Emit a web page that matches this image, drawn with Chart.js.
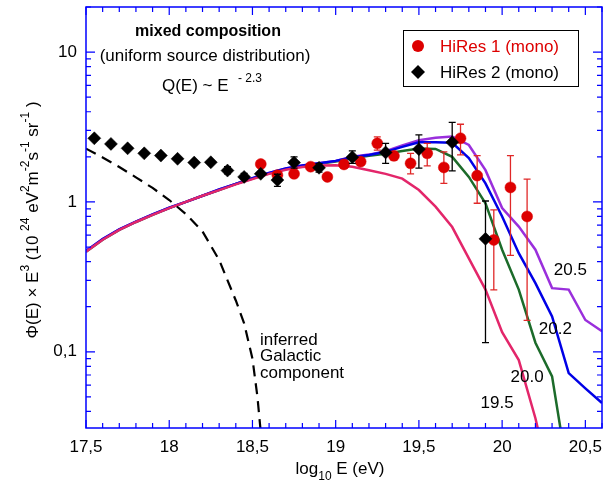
<!DOCTYPE html>
<html>
<head>
<meta charset="utf-8">
<script src="https://cdn.jsdelivr.net/npm/chart.js@4.4.1/dist/chart.umd.min.js"></script>
<style>
  html, body { margin: 0; padding: 0; background: #fff; }
  #wrap { width: 609px; height: 486px; }
</style>
</head>
<body>
<div id="wrap"><canvas id="spectrum" width="609" height="486"></canvas></div>
<script>
// HiRes 1 (mono): log10 E, flux x E^3, error bar ends (null = hidden by marker)
const hr1E    = [18.55, 18.65, 18.75, 18.85, 18.95, 19.05, 19.15, 19.25, 19.35, 19.45, 19.55, 19.65, 19.75, 19.85, 19.95, 20.05, 20.15];
const hr1Flux = [1.79, 1.51, 1.54, 1.72, 1.47, 1.78, 1.86, 2.46, 2.03, 1.81, 2.11, 1.70, 2.66, 1.50, 0.558, 1.25, 0.80];
const hr1Lo   = [null, null, null, null, null, 1.68, null, 2.22, 1.90, 1.54, 1.74, 1.33, 2.06, 0.98, 0.259, 0.44, 0.162];
const hr1Hi   = [null, null, null, null, null, 1.90, null, 2.72, 2.15, 2.11, 2.46, 2.16, 3.30, 2.04, 0.885, 2.04, 1.42];

// HiRes 2 (mono)
const hr2E    = [17.55, 17.65, 17.75, 17.85, 17.95, 18.05, 18.15, 18.25, 18.35, 18.45, 18.55, 18.65, 18.75, 18.90, 19.10, 19.30, 19.50, 19.70, 19.90];
const hr2Flux = [2.66, 2.44, 2.28, 2.11, 2.04, 1.94, 1.83, 1.84, 1.62, 1.47, 1.54, 1.40, 1.83, 1.69, 1.99, 2.14, 2.25, 2.50, 0.567];
const hr2Lo   = [null, 2.36, null, null, null, null, null, null, 1.54, 1.41, null, 1.27, 1.68, 1.58, 1.81, 1.81, 1.68, 1.61, 0.115];
const hr2Hi   = [null, 2.52, null, null, null, null, null, null, 1.72, 1.55, null, 1.53, 2.00, 1.80, 2.19, 2.46, 2.80, 3.40, 1.015];

// model spectra for different maximum energies, common energy grid
const modelE = [17.5, 17.6, 17.7, 17.8, 17.9, 18.0, 18.1, 18.2, 18.3, 18.4, 18.5, 18.6, 18.7, 18.8, 18.9,
                19.0, 19.1, 19.2, 19.3, 19.4, 19.5, 19.6, 19.7, 19.8, 19.9, 20.0, 20.1, 20.2, 20.3, 20.4, 20.5, 20.6];
const emax195 = [0.466, 0.56, 0.65, 0.735, 0.82, 0.91, 1.0, 1.10, 1.20, 1.31, 1.42, 1.54, 1.64, 1.71, 1.75,
                 1.76, 1.72, 1.63, 1.54, 1.43, 1.20, 0.93, 0.68, 0.42, 0.26, 0.135, 0.088, 0.036, 0.012, null, null, null];
const emax200 = [0.466, 0.56, 0.65, 0.735, 0.82, 0.91, 1.0, 1.10, 1.20, 1.32, 1.43, 1.55, 1.66, 1.74, 1.80,
                 1.86, 1.96, 2.03, 2.10, 2.19, 2.27, 2.26, 2.00, 1.47, 0.98, 0.48, 0.26, 0.115, 0.0685, 0.014, null, null];
const emax202 = [0.47, 0.565, 0.655, 0.74, 0.825, 0.915, 1.0, 1.10, 1.21, 1.32, 1.44, 1.56, 1.67, 1.75, 1.81,
                 1.88, 1.99, 2.06, 2.16, 2.33, 2.50, 2.50, 2.48, 1.96, 1.33, 0.80, 0.455, 0.287, 0.172, 0.072, 0.057, 0.0455];
const emax205 = [0.47, 0.565, 0.655, 0.74, 0.825, 0.915, 1.0, 1.10, 1.21, 1.32, 1.44, 1.56, 1.67, 1.75, 1.81,
                 1.88, 2.00, 2.07, 2.18, 2.38, 2.58, 2.68, 2.73, 2.40, 1.63, 0.91, 0.685, 0.48, 0.266, 0.26, 0.163, 0.137];

// inferred Galactic component (dashed)
const galE    = [17.5, 17.6, 17.7, 17.8, 17.9, 18.0, 18.1, 18.2, 18.3, 18.4, 18.45, 18.5, 18.53, 18.55];
const galFlux = [2.27, 1.98, 1.71, 1.46, 1.24, 1.03, 0.83, 0.635, 0.41, 0.22, 0.155, 0.09, 0.05, 0.029];

// axis ticks
const xTickVals = [17.5, 18, 18.5, 19, 19.5, 20, 20.5];
const xTickText = ['17,5', '18', '18,5', '19', '19,5', '20', '20,5'];
const yTickVals = [0.1, 1, 10];
const yTickText = ['0,1', '1', '10'];

// curve labels (E_max) placed in data coordinates
const curveLabels = [
  { text: '20.5', x: 20.41, y: 0.352 },
  { text: '20.2', x: 20.32, y: 0.142 },
  { text: '20.0', x: 20.15, y: 0.068 },
  { text: '19.5', x: 19.97, y: 0.045 }
];

const FONT = '"Liberation Sans", Arial, Helvetica, sans-serif';
const BLUE = '#0000ff';
const RED = '#dd0000';

const pts = (xs, ys) => xs.map((x, i) => ({ x: x, y: ys[i] }));

// draws a run of text pieces; each piece can be raised (sup) or lowered (sub)
function richText(ctx, x, y, parts, size, align) {
  const small = Math.round(size * 0.68);
  let total = 0;
  parts.forEach(p => {
    ctx.font = (p.mode ? small : size) + 'px ' + FONT;
    p.w = ctx.measureText(p.t).width;
    total += p.w;
  });
  let cx = align === 'center' ? x - total / 2 : x;
  ctx.textAlign = 'left';
  ctx.textBaseline = 'middle';
  parts.forEach(p => {
    ctx.font = (p.mode ? small : size) + 'px ' + FONT;
    let dy = 0;
    if (p.mode === 'sup') dy = -size * 0.42;
    if (p.mode === 'sub') dy = size * 0.48;
    ctx.fillText(p.t, cx, y + dy);
    cx += p.w;
  });
}

const errorBars = {
  id: 'errorBars',
  beforeDatasetDraw(chart, args) {
    const ds = chart.data.datasets[args.index];
    if (!ds.errLo) return;
    const ctx = chart.ctx, xs = chart.scales.x, ys = chart.scales.y, a = chart.chartArea;
    ctx.save();
    ctx.beginPath();
    ctx.rect(a.left, a.top, a.right - a.left, a.bottom - a.top);
    ctx.clip();
    ctx.strokeStyle = ds.errColor;
    ctx.lineWidth = 1.3;
    ds.data.forEach((p, i) => {
      if (ds.errLo[i] == null) return;
      const px = xs.getPixelForValue(p.x);
      const y1 = ys.getPixelForValue(ds.errLo[i]);
      const y2 = ys.getPixelForValue(ds.errHi[i]);
      ctx.beginPath();
      ctx.moveTo(px, y1); ctx.lineTo(px, y2);
      ctx.moveTo(px - 3.5, y1); ctx.lineTo(px + 3.5, y1);
      ctx.moveTo(px - 3.5, y2); ctx.lineTo(px + 3.5, y2);
      ctx.stroke();
    });
    ctx.restore();
  }
};

const frame = {
  id: 'frame',
  afterDraw(chart) {
    const ctx = chart.ctx, xs = chart.scales.x, ys = chart.scales.y, a = chart.chartArea;
    ctx.save();

    // box and inward ticks
    ctx.strokeStyle = BLUE;
    ctx.lineWidth = 1.5;
    ctx.strokeRect(a.left, a.top, a.right - a.left, a.bottom - a.top);
    ctx.lineWidth = 1.2;
    ctx.beginPath();
    for (let v = 175; v <= 206; v++) {
      const x = xs.getPixelForValue(v / 10);
      if (x < a.left || x > a.right) continue;
      const len = v % 5 === 0 ? 8 : 5;
      ctx.moveTo(x, a.bottom); ctx.lineTo(x, a.bottom - len);
      ctx.moveTo(x, a.top); ctx.lineTo(x, a.top + len);
    }
    [0.01, 0.1, 1, 10].forEach(dec => {
      for (let k = 1; k <= 9; k++) {
        const v = dec * k;
        if (v < ys.min || v > ys.max) continue;
        const y = ys.getPixelForValue(v);
        const len = k === 1 ? 9 : 5;
        ctx.moveTo(a.left, y); ctx.lineTo(a.left + len, y);
        ctx.moveTo(a.right, y); ctx.lineTo(a.right - len, y);
      }
    });
    ctx.stroke();

    // tick labels
    ctx.fillStyle = '#000';
    ctx.font = '17px ' + FONT;
    ctx.textAlign = 'center';
    ctx.textBaseline = 'middle';
    xTickVals.forEach((v, i) => ctx.fillText(xTickText[i], xs.getPixelForValue(v), a.bottom + 19));
    ctx.textAlign = 'right';
    yTickVals.forEach((v, i) => ctx.fillText(yTickText[i], a.left - 9, ys.getPixelForValue(v)));

    // axis titles
    richText(ctx, 340, 469, [{ t: 'log' }, { t: '10', mode: 'sub' }, { t: ' E (eV)' }], 17, 'center');
    ctx.save();
    ctx.translate(33, 220);
    ctx.rotate(-Math.PI / 2);
    richText(ctx, 0, 0, [
      { t: '\u03A6(E) \u00D7 E' }, { t: '3', mode: 'sup' }, { t: ' (10 ' }, { t: '24', mode: 'sup' },
      { t: ' eV' }, { t: '2', mode: 'sup' }, { t: 'm' }, { t: '-2', mode: 'sup' },
      { t: 's' }, { t: '-1', mode: 'sup' }, { t: ' sr' }, { t: '-1', mode: 'sup' }, { t: ' )' }
    ], 17, 'center');
    ctx.restore();

    // header text
    ctx.textAlign = 'center';
    ctx.font = 'bold 16px ' + FONT;
    ctx.fillText('mixed composition', 208, 32);
    ctx.font = '17px ' + FONT;
    ctx.fillText('(uniform source distribution)', 205, 56);
    richText(ctx, 212, 86, [{ t: 'Q(E) ~ E  ' }, { t: '- 2.3', mode: 'sup' }], 17, 'center');

    // curve labels
    ctx.font = '17px ' + FONT;
    ctx.textAlign = 'center';
    curveLabels.forEach(l => ctx.fillText(l.text, xs.getPixelForValue(l.x), ys.getPixelForValue(l.y)));

    ctx.textAlign = 'left';
    const gx = xs.getPixelForValue(18.545), gy = ys.getPixelForValue(0.12);
    ['inferred', 'Galactic', 'component'].forEach((s, i) => ctx.fillText(s, gx, gy + i * 16.5));

    // legend
    ctx.fillStyle = '#fff';
    ctx.fillRect(403, 30, 175, 56);
    ctx.strokeStyle = '#000';
    ctx.lineWidth = 1;
    ctx.strokeRect(403.5, 30.5, 175, 56);
    ctx.fillStyle = RED;
    ctx.beginPath(); ctx.arc(418, 46, 6, 0, Math.PI * 2); ctx.fill();
    ctx.fillStyle = '#000';
    ctx.beginPath();
    ctx.moveTo(418, 65); ctx.lineTo(425, 72); ctx.lineTo(418, 79); ctx.lineTo(411, 72);
    ctx.closePath(); ctx.fill();
    ctx.font = '17px ' + FONT;
    ctx.fillStyle = RED;
    ctx.fillText('HiRes 1 (mono)', 440, 47);
    ctx.fillStyle = '#000';
    ctx.fillText('HiRes 2 (mono)', 440, 73);

    ctx.restore();
  }
};

const line = (label, xs, ys, color, order, extra) => Object.assign({
  label: label,
  data: pts(xs, ys),
  showLine: true,
  borderColor: color,
  borderWidth: 2.5,
  pointRadius: 0,
  tension: 0,
  spanGaps: false,
  order: order
}, extra || {});

new Chart(document.getElementById('spectrum'), {
  type: 'scatter',
  data: {
    datasets: [
      {
        label: 'HiRes 1 (mono)',
        data: pts(hr1E, hr1Flux),
        errLo: hr1Lo, errHi: hr1Hi, errColor: '#e02828',
        pointStyle: 'circle',
        pointRadius: 5.5,
        backgroundColor: RED,
        borderColor: RED,
        borderWidth: 0.5,
        order: 1
      },
      {
        label: 'HiRes 2 (mono)',
        data: pts(hr2E, hr2Flux),
        errLo: hr2Lo, errHi: hr2Hi, errColor: '#000',
        pointStyle: 'rectRot',
        pointRadius: 6.5,
        backgroundColor: '#000',
        borderColor: '#000',
        borderWidth: 0.5,
        order: 0
      },
      line('Emax 20.5', modelE, emax205, '#9a2fdc', 5),
      line('Emax 20.2', modelE, emax202, '#0000e6', 4),
      line('Emax 20.0', modelE, emax200, '#1c6b2a', 6),
      line('Emax 19.5', modelE, emax195, '#e3266a', 3),
      line('Galactic', galE, galFlux, '#000', 2, { borderDash: [11, 7], borderWidth: 2.2 })
    ]
  },
  options: {
    responsive: false,
    animation: false,
    layout: { padding: { left: 86, top: 7, right: 6, bottom: 58 } },
    scales: {
      x: { type: 'linear', min: 17.5, max: 20.6, display: false },
      y: { type: 'logarithmic', min: 0.031, max: 20, display: false }
    },
    plugins: {
      legend: { display: false },
      tooltip: { enabled: false }
    }
  },
  plugins: [errorBars, frame]
});
</script>
</body>
</html>
